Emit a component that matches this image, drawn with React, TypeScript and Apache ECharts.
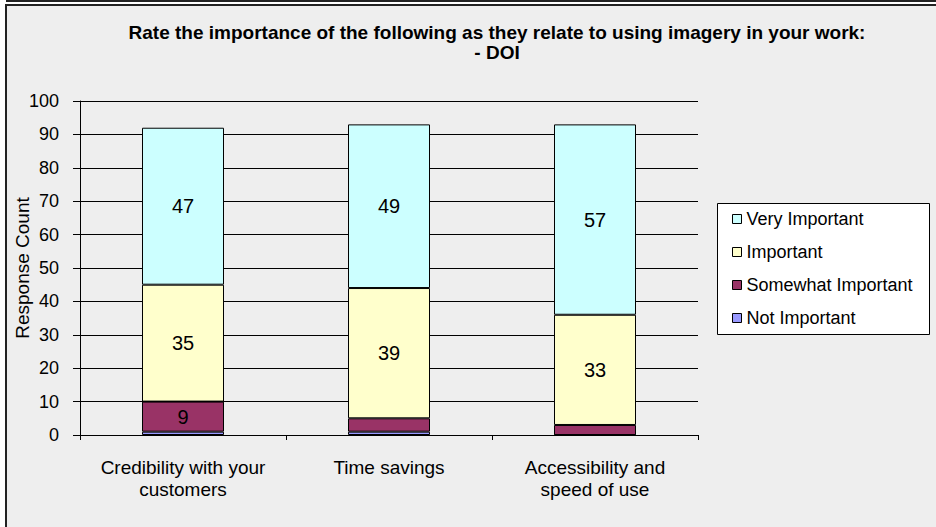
import React, { useEffect, useRef } from "react";
import * as echarts from "echarts";

const categories = ["Credibility with your\ncustomers", "Time savings", "Accessibility and\nspeed of use"];
const notImportant = [1, 1, 0];
const somewhatImportant = [9, 4, 3];
const important = [35, 39, 33];
const veryImportant = [47, 49, 57];
const yTicks = { min: 0, max: 100, interval: 10 };
const yAxisName = "Response Count";
const titleText = "Rate the importance of the following as they relate to using imagery in your work:\n- DOI";

const FONT = "'Liberation Sans', Arial, sans-serif";

export default function App() {
  const ref = useRef<HTMLDivElement>(null);
  useEffect(() => {
    if (!ref.current) return;
    const chart = echarts.init(ref.current, undefined, { renderer: "svg" });
    const label = {
      show: true,
      position: "inside",
      color: "#000",
      fontSize: 20,
      fontFamily: FONT,
      formatter: (p: any) => (p.value >= 9 ? String(p.value) : ""),
    };
    const mk = (name: string, data: number[], color: string) => ({
      name,
      type: "bar",
      stack: "total",
      barWidth: 82,
      data,
      itemStyle: { color, borderColor: "#000", borderWidth: 1 },
      label,
      emphasis: { disabled: true },
    });
    chart.setOption({
      animation: false,
      backgroundColor: "#ffffff",
      textStyle: { fontFamily: FONT },
      graphic: [
        {
          type: "rect",
          z: 0,
          shape: { x: 6, y: 5, width: 940, height: 540 },
          style: { fill: "#eeeeee", stroke: "#222", lineWidth: 2 },
        },
        {
          type: "line",
          z: 0,
          shape: { x1: 6, y1: 1, x2: 936, y2: 1 },
          style: { stroke: "#222", lineWidth: 2 },
        },
        {
          type: "rect",
          z: 1,
          shape: { x: 717.5, y: 203.5, width: 212, height: 131 },
          style: { fill: "#ffffff", stroke: "#000", lineWidth: 1 },
        },
        {
          type: "text",
          z: 2,
          x: 22,
          y: 268,
          rotation: Math.PI / 2,
          style: {
            text: yAxisName,
            fontSize: 19,
            fontFamily: FONT,
            fill: "#000",
            align: "center",
            verticalAlign: "middle",
          },
        },
      ],
      title: {
        text: titleText,
        left: 492,
        textAlign: "center",
        top: 17,
        textStyle: {
          fontSize: 19,
          fontWeight: "bold",
          color: "#000",
          fontFamily: FONT,
          lineHeight: 20,
          align: "center",
        },
      },
      legend: {
        data: ["Very Important", "Important", "Somewhat Important", "Not Important"],
        orient: "vertical",
        left: 727,
        top: 205,
        itemWidth: 9,
        itemHeight: 9,
        itemGap: 15,
        icon: "rect",
        z: 5,
        itemStyle: { borderColor: "#000", borderWidth: 1 },
        textStyle: { fontSize: 18, lineHeight: 18, color: "#000", fontFamily: FONT },
      },
      grid: { left: 80, right: 238, top: 101, bottom: 92, containLabel: false, outerBoundsMode: "none" },
      xAxis: {
        type: "category",
        data: categories,
        axisLine: { lineStyle: { color: "#000", width: 1 } },
        axisTick: { show: true, length: 5, lineStyle: { color: "#000" } },
        axisLabel: { color: "#000", fontSize: 19, lineHeight: 22, margin: 21, interval: 0, fontFamily: FONT },
      },
      yAxis: {
        type: "value",
        min: yTicks.min,
        max: yTicks.max,
        interval: yTicks.interval,
        axisLine: { show: true, lineStyle: { color: "#000", width: 1 } },
        axisTick: { show: true, length: 7, lineStyle: { color: "#000" } },
        axisLabel: { color: "#000", fontSize: 18, margin: 21, fontFamily: FONT },
        splitLine: { show: true, lineStyle: { color: "#000", width: 1 } },
      },
      series: [
        mk("Not Important", notImportant, "#9999ff"),
        mk("Somewhat Important", somewhatImportant, "#993366"),
        mk("Important", important, "#ffffcc"),
        mk("Very Important", veryImportant, "#ccffff"),
      ],
    });
    return () => chart.dispose();
  }, []);
  return (
    <div
      ref={ref}
      style={{ position: "fixed", left: 0, top: 0, width: 936, height: 527 }}
    />
  );
}
